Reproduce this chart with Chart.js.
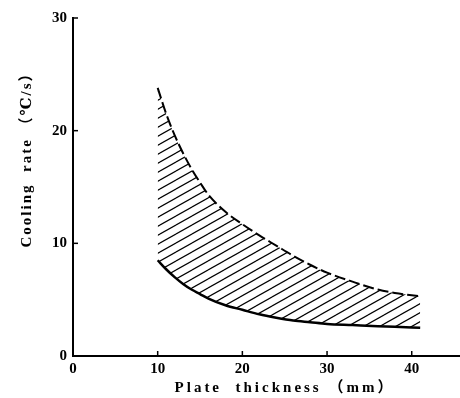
<!DOCTYPE html>
<html>
<head>
<meta charset="utf-8">
<script src="https://cdn.jsdelivr.net/npm/chart.js@4.4.1/dist/chart.umd.min.js"></script>
<style>
  html, body { margin: 0; padding: 0; background: #fff; }
  #wrap { width: 460px; height: 398px; }
</style>
</head>
<body>
<div id="wrap"><canvas id="chart"></canvas></div>
<script>
// plate thickness (mm)
const thickness = [10, 11, 12, 13, 14, 15, 16, 18, 20, 22, 24, 26, 28, 30, 33, 36, 38, 41];
// upper bound of cooling rate (dashed line)
const upperRate = [23.8, 21.5, 19.6, 18.0, 16.6, 15.4, 14.3, 12.8, 11.7, 10.7, 9.8, 8.9, 8.1, 7.4, 6.6, 5.9, 5.6, 5.3];
// lower bound of cooling rate (solid line)
const lowerRate = [8.5, 7.7, 7.0, 6.4, 5.9, 5.5, 5.1, 4.5, 4.1, 3.7, 3.4, 3.15, 3.0, 2.85, 2.75, 2.65, 2.6, 2.5];
const xTicks = [0, 10, 20, 30, 40];
const yTicks = [0, 10, 20, 30];

const serif = "'Liberation Serif', 'DejaVu Serif', 'Noto Sans CJK JP', serif";

// diagonal hatching for the band between the curves
const makeHatch = () => {
  const c = document.createElement('canvas');
  c.width = 16;
  c.height = 9;
  const g = c.getContext('2d');
  g.strokeStyle = '#000';
  g.lineWidth = 1.2;
  for (let dx = -16; dx <= 16; dx += 16) {
    for (let dy = -9; dy <= 9; dy += 9) {
      g.beginPath();
      g.moveTo(dx, 9 + dy);
      g.lineTo(dx + 16, dy);
      g.stroke();
    }
  }
  return g.createPattern(c, 'repeat');
};

// inward tick marks + spaced axis titles
const axisDeco = {
  id: 'axisDeco',
  afterDraw(chart) {
    const { ctx, chartArea, scales } = chart;
    ctx.save();
    ctx.strokeStyle = '#000';
    ctx.lineWidth = 1.5;
    xTicks.forEach((v) => {
      if (v === 0) return;
      const px = scales.x.getPixelForValue(v);
      ctx.beginPath();
      ctx.moveTo(px, chartArea.bottom);
      ctx.lineTo(px, chartArea.bottom - 5);
      ctx.stroke();
    });
    yTicks.forEach((v) => {
      if (v === 0) return;
      const py = scales.y.getPixelForValue(v);
      ctx.beginPath();
      ctx.moveTo(chartArea.left, py);
      ctx.lineTo(chartArea.left + 5, py);
      ctx.stroke();
    });

    ctx.fillStyle = '#000';
    ctx.font = 'bold 15px ' + serif;
    ctx.textAlign = 'center';
    ctx.textBaseline = 'middle';
    ctx.letterSpacing = '3px';
    ctx.fillText('Plate  thickness （mm）', 285, 388);

    ctx.letterSpacing = '2px';
    ctx.translate(27, 156);
    ctx.rotate(-Math.PI / 2);
    ctx.fillText('Cooling  rate （℃/s）', 0, 0);
    ctx.restore();
  }
};

const ctx = document.getElementById('chart').getContext('2d');

new Chart(ctx, {
  type: 'line',
  data: {
    datasets: [
      {
        label: 'upper',
        data: thickness.map((t, i) => ({ x: t, y: upperRate[i] })),
        borderColor: '#000',
        borderWidth: 2,
        borderDash: [11, 4],
        backgroundColor: makeHatch(),
        fill: '+1',
        pointRadius: 0,
        cubicInterpolationMode: 'monotone'
      },
      {
        label: 'lower',
        data: thickness.map((t, i) => ({ x: t, y: lowerRate[i] })),
        borderColor: '#000',
        borderWidth: 2.5,
        fill: false,
        pointRadius: 0,
        cubicInterpolationMode: 'monotone'
      }
    ]
  },
  options: {
    responsive: true,
    maintainAspectRatio: false,
    animation: false,
    layout: {
      padding: { top: 18, right: 0, bottom: 0, left: 0 }
    },
    plugins: {
      legend: { display: false },
      tooltip: { enabled: false }
    },
    scales: {
      x: {
        type: 'linear',
        min: 0,
        max: 45.7,
        afterBuildTicks: (s) => {
          s.ticks = xTicks.map((v) => ({ value: v }));
        },
        afterFit: (s) => {
          s.height = 42;
        },
        grid: { display: false, drawTicks: false },
        border: { display: true, color: '#000', width: 2 },
        ticks: {
          color: '#000',
          padding: 4,
          font: { family: serif, size: 15, weight: 'bold' },
          maxRotation: 0
        }
      },
      y: {
        min: 0,
        max: 30,
        afterBuildTicks: (s) => {
          s.ticks = yTicks.map((v) => ({ value: v }));
        },
        afterFit: (s) => {
          s.width = 73;
        },
        grid: { display: false, drawTicks: false },
        border: { display: true, color: '#000', width: 2 },
        ticks: {
          color: '#000',
          padding: 6,
          font: { family: serif, size: 15, weight: 'bold' }
        }
      }
    }
  },
  plugins: [axisDeco]
});
</script>
</body>
</html>
